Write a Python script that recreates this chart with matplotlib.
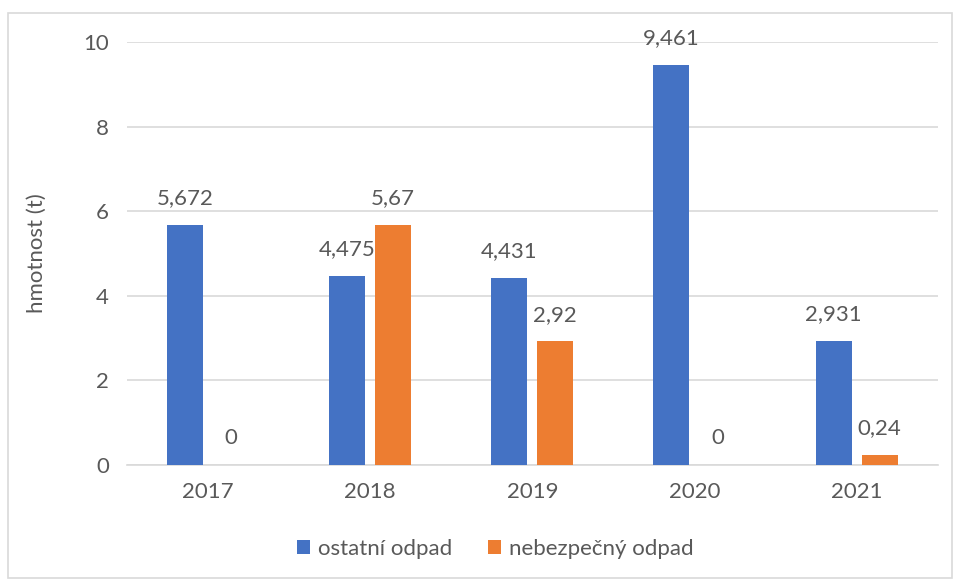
import numpy as np
import matplotlib.pyplot as plt
from matplotlib.patches import Rectangle

years = ["2017", "2018", "2019", "2020", "2021"]
ostatni = [5.672, 4.475, 4.431, 9.461, 2.931]
nebezpecny = [0, 5.67, 2.92, 0, 0.24]
labels_ost = ["5,672", "4,475", "4,431", "9,461", "2,931"]
labels_neb = ["0", "5,67", "2,92", "0", "0,24"]

plt.rcParams['font.family'] = ['Lato', 'DejaVu Sans']
txt = '#595959'

fig = plt.figure(figsize=(9.56, 5.81), dpi=100)
ax = fig.add_axes([0.1328, 0.1997, 0.848, 0.728])

x = np.arange(len(years))
w = 0.222
off = 0.142
b1 = ax.bar(x - off, ostatni, w, color='#4472C4', label='ostatní odpad', zorder=3)
b2 = ax.bar(x + off, nebezpecny, w, color='#ED7D31', label='nebezpečný odpad', zorder=3)
ax.bar_label(b1, labels=labels_ost, padding=12, fontsize=16, color=txt)
ax.bar_label(b2, labels=labels_neb, padding=12, fontsize=16, color=txt)

ax.set_xlim(-0.5, 4.5)
ax.set_ylim(0, 10)
ax.set_yticks(range(0, 11, 2))
ax.set_xticks(x)
ax.set_xticklabels(years)
ax.grid(axis='y', color='#d9d9d9', lw=1.2, zorder=0)
for s in ['top', 'right', 'left']:
    ax.spines[s].set_visible(False)
ax.spines['bottom'].set_color('#d9d9d9')
ax.spines['bottom'].set_linewidth(1.2)
ax.tick_params(length=0, labelsize=16, labelcolor=txt)
ax.tick_params(axis='x', pad=12)
ax.tick_params(axis='y', pad=13)
ax.set_ylabel('hmotnost (t)', fontsize=16, color=txt, labelpad=26)

fig.legend(handles=[b1, b2], loc='center', bbox_to_anchor=(0.518, 0.055), ncol=2,
           frameon=False, fontsize=16, handlelength=0.6, handleheight=0.6,
           columnspacing=1.6, handletextpad=0.35, labelcolor=txt)

fig.patches.append(Rectangle((8 / 956, 3 / 581), 944 / 956, 565 / 581, transform=fig.transFigure,
                             fill=False, edgecolor='#d9d9d9', lw=1.2))

fig.savefig('out.png', dpi=100)
